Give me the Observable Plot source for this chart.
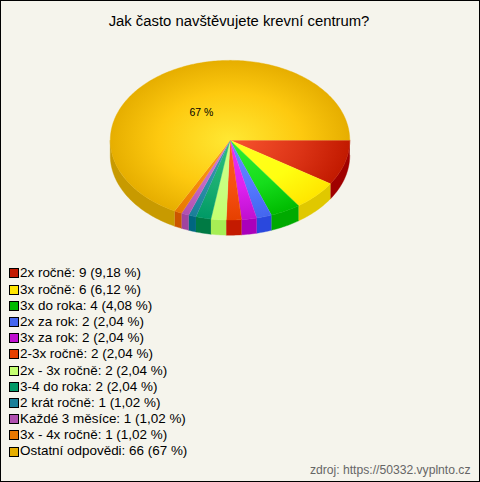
<!DOCTYPE html>
<html>
<head>
<meta charset="utf-8">
<script src="https://cdn.jsdelivr.net/npm/d3@7"></script>
<script src="https://cdn.jsdelivr.net/npm/@observablehq/plot@0.6"></script>
<style>
html,body{margin:0;padding:0;background:#f5f4ec;}
#frame{position:relative;box-sizing:border-box;width:480px;height:482px;border:1px solid #000;background:#f5f4ec;font-family:"Liberation Sans",Arial,sans-serif;color:#000;overflow:hidden;}
#title{position:absolute;left:-2px;width:480px;top:12px;text-align:center;font-size:14.85px;line-height:16px;}
#chart{position:absolute;left:-1px;top:-1px;}
#chart svg{display:block;background:transparent;}
#legend{position:absolute;left:8px;top:264.4px;margin:0;padding:0;list-style:none;font-size:13.45px;}
#legend li{height:16.2px;line-height:16.2px;white-space:nowrap;display:flex;align-items:center;}
#legend i{display:block;box-sizing:border-box;width:10px;height:10px;border:1px solid #000;margin-right:1px;flex:none;}
#source{position:absolute;right:8.5px;top:462px;font-size:12.15px;line-height:14px;color:#666;}
</style>
</head>
<body>
<div id="frame">
  <div id="title"></div>
  <div id="chart"></div>
  <ul id="legend"></ul>
  <div id="source"></div>
</div>
<script>
const titleText = "Jak často navštěvujete krevní centrum?";
const sourceText = "zdroj: https://50332.vyplnto.cz";
const categories = ["2x ročně","3x ročně","3x do roka","2x za rok","3x za rok","2-3x ročně","2x - 3x ročně","3-4 do roka","2 krát ročně","Každé 3 měsíce","3x - 4x ročně","Ostatní odpovědi"];
const values = [9,6,4,2,2,2,2,2,1,1,1,66];
const percents = ["9,18 %","6,12 %","4,08 %","2,04 %","2,04 %","2,04 %","2,04 %","2,04 %","1,02 %","1,02 %","1,02 %","67 %"];
const baseColors = ["#c21a00","#ffe600","#00bb00","#4466ee","#c010d0","#e64000","#c4ff70","#009966","#1a7f99","#b050b0","#e87800","#e6ae00"];
const midColors  = ["#dc3416","#ffff11","#16dd1c","#5578ff","#dd22ee","#f55011","#c8ff80","#18ad70","#2a8ea6","#c468c4","#f58a0c","#fdc90f"];
const hiColors   = ["#f9552f","#ffff22","#33ee33","#668cff","#ee33ee","#ff5a22","#ccff88","#2cc07c","#3a9cb0","#d47ed4","#ff9a1a","#ffe833"];
const sideColors = ["#a00000","#e0c800","#00aa00","#2a48dd","#aa00bb","#c41a00","#a6ee55","#007a44","#006680","#a044a0","#cc5500","#c89a00"];

const total = d3.sum(values);
const depth = 0.19;              // side height, in pie radii
const cum = d3.cumsum(values);
const slices = categories.map((name,i)=>({
  name, i,
  a0: (cum[i]-values[i])/total*2*Math.PI,
  a1: cum[i]/total*2*Math.PI
}));
const arc = (a0,a1) => {
  const n = Math.max(2, Math.ceil((a1-a0)/(Math.PI/180)));
  return d3.range(n+1).map(k => a0+(a1-a0)*k/n);
};
const topPts = slices.flatMap(s => [
  {k:s.i, x:0, y:0, g:`url(#pg${s.i})`},
  ...arc(s.a0,s.a1).map(t => ({k:s.i, x:Math.cos(t), y:Math.sin(t), g:`url(#pg${s.i})`}))
]);
const sidePts = slices.filter(s => s.a0 < Math.PI).flatMap(s => {
  const ts = arc(s.a0, Math.min(s.a1, Math.PI));
  const c = sideColors[s.i];
  return [
    ...ts.map(t => ({k:s.i, x:Math.cos(t), y:Math.sin(t), g:c})),
    ...ts.slice().reverse().map(t => ({k:s.i, x:Math.cos(t), y:Math.sin(t)+depth, g:c}))
  ];
});
const big = slices[slices.length-1];
const mid = (big.a0+big.a1)/2;
const labels = [{x:Math.cos(mid)*0.46, y:Math.sin(mid)*0.41, text:percents[percents.length-1]}];

const chart = Plot.plot({
  width: 480, height: 260,
  margin: 0,
  x: {domain:[-1,1], range:[110,350], axis:null},
  y: {domain:[-1,1], range:[60,220], axis:null},
  color: {type:"identity"},
  marks: [
    Plot.line(sidePts, {x:"x", y:"y", z:"k", fill:"g", stroke:"g", strokeWidth:0.4, curve:"linear"}),
    Plot.line(topPts,  {x:"x", y:"y", z:"k", fill:"g", stroke:"g", strokeWidth:0.4, curve:"linear"}),
    Plot.text(labels, {x:"x", y:"y", text:"text", fontSize:10.5, fill:"#000", fontFamily:"Liberation Sans, Arial, sans-serif"})
  ]
});

// Radial sheen shared by the top face, centred on the scales' origin.
const X = chart.scale("x"), Y = chart.scale("y");
const cx = X.apply(0), cy = Y.apply(0), rx = X.apply(1)-cx, ry = Y.apply(1)-cy;
const NS = "http://www.w3.org/2000/svg";
const defs = document.createElementNS(NS,"defs");
slices.forEach(s=>{
  const g = document.createElementNS(NS,"radialGradient");
  g.setAttribute("id",`pg${s.i}`);
  g.setAttribute("gradientUnits","userSpaceOnUse");
  g.setAttribute("cx",0);g.setAttribute("cy",0);g.setAttribute("r",1);
  g.setAttribute("gradientTransform",`translate(${cx},${cy}) scale(${rx},${ry})`);
  [[0,hiColors[s.i]],[0.6,midColors[s.i]],[1,baseColors[s.i]]].forEach(([o,c])=>{
    const st=document.createElementNS(NS,"stop");
    st.setAttribute("offset",o);st.setAttribute("stop-color",c);g.appendChild(st);
  });
  defs.appendChild(g);
});
chart.insertBefore(defs, chart.firstChild);
chart.style.background = "transparent";
document.getElementById("chart").appendChild(chart);

document.getElementById("title").textContent = titleText;
document.getElementById("source").textContent = sourceText;
const ul = document.getElementById("legend");
categories.forEach((c,i)=>{
  const li=document.createElement("li");
  const sw=document.createElement("i");sw.style.background=baseColors[i];
  li.appendChild(sw);
  li.appendChild(document.createTextNode(`${c}: ${values[i]} (${percents[i]})`));
  ul.appendChild(li);
});
</script>
</body>
</html>
